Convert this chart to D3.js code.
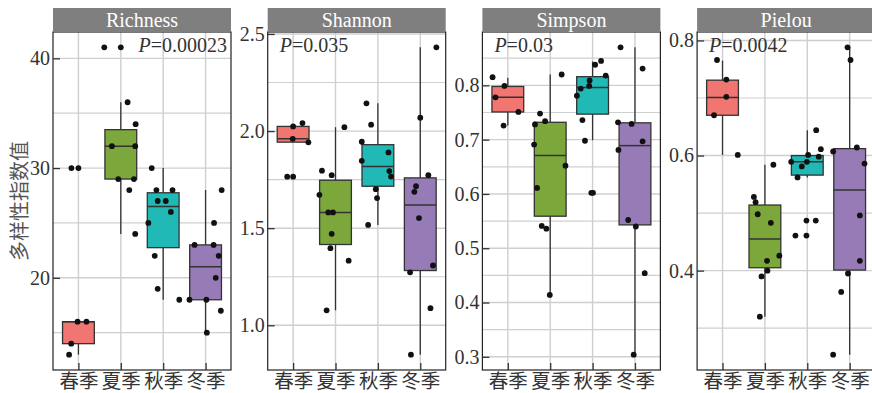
<!DOCTYPE html>
<html>
<head>
<meta charset="utf-8">
<script src="https://cdn.jsdelivr.net/npm/d3@7"></script>
<style>
  html, body { margin: 0; padding: 0; background: #fff; }
  svg { display: block; }
  .serif { font-family: "Liberation Serif", "Times New Roman", Tinos, "DejaVu Serif", serif; }
  .cjk { font-family: "Noto Sans CJK SC", "Noto Sans CJK JP", sans-serif; }
</style>
</head>
<body>
<svg id="chart" width="872" height="393"></svg>
<script>
// ---------- data ----------
const seasons = ["春季", "夏季", "秋季", "冬季"];
const indices = ["Richness", "Shannon", "Simpson", "Pielou"];
const pValues = ["0.00023", "0.035", "0.03", "0.0042"];
const yTitle = "多样性指数值";
const seasonColors = ["#F17571", "#7BA73B", "#20B9B6", "#977BB7"];

const richnessTicks = [20, 30, 40];
const shannonTicks = [1.0, 1.5, 2.0, 2.5];
const simpsonTicks = [0.3, 0.4, 0.5, 0.6, 0.7, 0.8];
const pielouTicks = [0.4, 0.6, 0.8];

// points per season (values) and horizontal jitter (fraction of category step)
const richnessValues = [
  [30, 30, 16, 16, 14, 13],
  [41, 41, 36, 34, 32, 32, 29, 29, 28, 24],
  [30, 28, 28, 27, 27, 26, 25, 22, 19, 18],
  [28, 25, 23, 23, 22, 20, 18, 18, 17, 15]
];
const richnessJitter = [
  [-0.165, 0, -0.02, 0.19, -0.17, -0.22],
  [-0.39, 0, 0.16, 0.35, -0.21, 0.34, -0.06, 0.31, 0.2, 0.34],
  [-0.27, -0.16, 0.22, -0.13, 0.06, 0.18, -0.35, -0.2, -0.13, 0.38],
  [0.38, 0.2, -0.26, 0.19, 0.31, 0.24, -0.38, 0.02, 0.36, 0.03]
];
// box stats: [lower whisker, q1, median, q3, upper whisker]
const richnessBox = [
  [13, 14, 16, 16, 16],
  [24, 29, 32, 33.5, 36],
  [18, 22.75, 26.5, 27.75, 30],
  [15, 18, 21, 23, 28]
];

const shannonValues = [
  [2.024, 2.041, 1.96, 1.942, 1.765, 1.765],
  [2.02, 1.796, 1.773, 1.672, 1.581, 1.581, 1.471, 1.397, 1.333, 1.077],
  [2.143, 2.033, 1.945, 1.89, 1.847, 1.794, 1.766, 1.701, 1.655, 1.517],
  [2.431, 2.069, 1.773, 1.716, 1.687, 1.552, 1.308, 1.273, 1.088, 0.849]
];
const shannonJitter = [
  [0, 0.22, -0.01, 0.36, -0.14, 0],
  [0.21, -0.32, -0.09, -0.38, -0.17, -0.06, -0.09, -0.12, 0.31, -0.21],
  [-0.27, -0.16, -0.38, 0.25, -0.38, 0.27, 0.31, -0.05, -0.02, -0.23],
  [0.38, 0, 0.19, -0.1, -0.14, -0.03, 0.3, -0.24, 0.24, -0.22]
];
const shannonBox = [
  [1.943, 1.943, 1.96, 2.024, 2.03],
  [1.077, 1.416, 1.581, 1.747, 2.02],
  [1.517, 1.716, 1.818, 1.93, 2.143],
  [0.849, 1.282, 1.62, 1.759, 2.431]
];

const simpsonValues = [
  [0.815, 0.799, 0.778, 0.751, 0.726],
  [0.82, 0.748, 0.728, 0.734, 0.691, 0.652, 0.611, 0.541, 0.536, 0.414],
  [0.845, 0.838, 0.818, 0.809, 0.799, 0.794, 0.781, 0.736, 0.698, 0.602, 0.602],
  [0.87, 0.831, 0.732, 0.729, 0.697, 0.681, 0.552, 0.54, 0.454, 0.304]
];
const simpsonJitter = [
  [-0.36, -0.08, -0.29, 0.25, -0.1],
  [0.27, -0.24, -0.36, -0.12, -0.38, 0.36, -0.31, -0.2, -0.09, -0.01],
  [0.2, 0.06, 0.31, -0.07, -0.08, -0.28, -0.37, -0.24, -0.18, -0.03, 0.01],
  [-0.34, 0.18, -0.4, -0.08, 0.18, -0.39, -0.16, 0.02, 0.23, -0.03]
];
const simpsonBox = [
  [0.726, 0.751, 0.778, 0.798, 0.814],
  [0.414, 0.559, 0.671, 0.732, 0.82],
  [0.699, 0.747, 0.796, 0.816, 0.844],
  [0.304, 0.543, 0.689, 0.731, 0.87]
];

const pielouValues = [
  [0.766, 0.732, 0.702, 0.67, 0.601],
  [0.584, 0.528, 0.519, 0.498, 0.483, 0.426, 0.417, 0.4, 0.39, 0.32],
  [0.644, 0.611, 0.601, 0.598, 0.589, 0.589, 0.581, 0.562, 0.487, 0.487, 0.461, 0.461],
  [0.788, 0.766, 0.614, 0.607, 0.586, 0.496, 0.417, 0.395, 0.363, 0.254]
];
const pielouJitter = [
  [-0.13, 0.09, 0.09, -0.2, 0.36],
  [0.2, -0.26, -0.22, -0.17, 0.14, 0.34, 0.05, 0.06, -0.08, -0.12],
  [0.21, 0.32, 0.02, 0.27, -0.38, -0.01, -0.13, -0.23, -0.02, 0.2, -0.28, -0.02],
  [-0.05, 0.02, 0.17, -0.39, 0.35, 0.24, 0.24, -0.04, -0.2, -0.39]
];
const pielouBox = [
  [0.601, 0.67, 0.701, 0.731, 0.765],
  [0.32, 0.405, 0.455, 0.514, 0.584],
  [0.562, 0.566, 0.589, 0.6, 0.644],
  [0.254, 0.401, 0.54, 0.612, 0.788]
];

const panelsData = [
  { values: richnessValues, jitter: richnessJitter, box: richnessBox, ticks: richnessTicks },
  { values: shannonValues, jitter: shannonJitter, box: shannonBox, ticks: shannonTicks },
  { values: simpsonValues, jitter: simpsonJitter, box: simpsonBox, ticks: simpsonTicks },
  { values: pielouValues, jitter: pielouJitter, box: pielouBox, ticks: pielouTicks }
];

// ---------- layout ----------
const panelLeft0 = 53, panelStep = 214.7, panelW = 178;
const panelTop = 32, panelBottom = 370, stripTop = 8;
const gridColor = "#CFCFCF";
const inkColor = "#333333";

const svg = d3.select("#chart");
svg.append("rect").attr("width", 872).attr("height", 393).attr("fill", "#fff");

// y-axis title
svg.append("text")
  .attr("class", "cjk")
  .attr("transform", `translate(18,${(panelTop + panelBottom) / 2}) rotate(-90)`)
  .attr("text-anchor", "middle")
  .attr("dominant-baseline", "central")
  .attr("font-size", 20)
  .attr("fill", "#555")
  .text(yTitle);

panelsData.forEach((pd, pi) => {
  const left = panelLeft0 + pi * panelStep;
  const g = svg.append("g");

  const x = d3.scalePoint().domain(seasons).range([left, left + panelW]).padding(0.6);
  const step = x.step();

  const all = pd.values.flat();
  const [mn, mx] = d3.extent(all);
  const ex = (mx - mn) * 0.05;
  const y = d3.scaleLinear().domain([mn - ex, mx + ex]).range([panelBottom, panelTop]);

  g.append("rect").attr("x", left).attr("y", panelTop)
    .attr("width", panelW).attr("height", panelBottom - panelTop).attr("fill", "#fff");

  // minor grid
  const tstep = pd.ticks[1] - pd.ticks[0];
  const minor = [];
  pd.ticks.forEach(t => minor.push(t - tstep / 2));
  minor.push(pd.ticks[pd.ticks.length - 1] + tstep / 2);
  const [d0, d1] = y.domain();
  g.selectAll(".minor").data(minor.filter(v => v > d0 && v < d1)).join("line")
    .attr("x1", left).attr("x2", left + panelW)
    .attr("y1", d => y(d)).attr("y2", d => y(d))
    .attr("stroke", gridColor).attr("stroke-width", 1.2);
  g.selectAll(".major").data(pd.ticks).join("line")
    .attr("x1", left).attr("x2", left + panelW)
    .attr("y1", d => y(d)).attr("y2", d => y(d))
    .attr("stroke", gridColor).attr("stroke-width", 1.4);
  g.selectAll(".vgrid").data(seasons).join("line")
    .attr("x1", d => x(d)).attr("x2", d => x(d))
    .attr("y1", panelTop).attr("y2", panelBottom)
    .attr("stroke", gridColor).attr("stroke-width", 1.4);

  // boxes
  const bw = step * 0.75;
  seasons.forEach((s, si) => {
    const b = pd.box[si];
    const cx = x(s);
    g.append("line").attr("x1", cx).attr("x2", cx)
      .attr("y1", y(b[0])).attr("y2", y(b[1]))
      .attr("stroke", inkColor).attr("stroke-width", 1.3);
    g.append("line").attr("x1", cx).attr("x2", cx)
      .attr("y1", y(b[3])).attr("y2", y(b[4]))
      .attr("stroke", inkColor).attr("stroke-width", 1.3);
    g.append("rect")
      .attr("x", cx - bw / 2).attr("width", bw)
      .attr("y", y(b[3])).attr("height", Math.max(0.5, y(b[1]) - y(b[3])))
      .attr("fill", seasonColors[si])
      .attr("stroke", inkColor).attr("stroke-width", 1.3);
    g.append("line").attr("x1", cx - bw / 2).attr("x2", cx + bw / 2)
      .attr("y1", y(b[2])).attr("y2", y(b[2]))
      .attr("stroke", inkColor).attr("stroke-width", 1.5);
  });

  // points
  const pts = [];
  seasons.forEach((s, si) => {
    pd.values[si].forEach((v, k) => pts.push({ s, v, j: pd.jitter[si][k] }));
  });
  g.selectAll(".pt").data(pts).join("circle")
    .attr("cx", d => x(d.s) + d.j * step)
    .attr("cy", d => y(d.v))
    .attr("r", 2.9)
    .attr("fill", "#111");

  // panel border
  g.append("rect").attr("x", left).attr("y", panelTop)
    .attr("width", panelW).attr("height", panelBottom - panelTop)
    .attr("fill", "none").attr("stroke", "#222").attr("stroke-width", 1.2);

  // y axis (ticks inward)
  const yAxis = d3.axisLeft(y).tickValues(pd.ticks).tickSize(-7).tickPadding(4)
    .tickFormat(pi === 0 ? d3.format("d") : d3.format(".1f"));
  const ya = svg.append("g").attr("transform", `translate(${left},0)`).call(yAxis);
  ya.attr("font-family", null);
  ya.select(".domain").remove();
  ya.selectAll(".tick line").attr("stroke", inkColor).attr("stroke-width", 1.3);
  ya.selectAll(".tick text").attr("class", "serif").attr("font-size", 20)
    .attr("fill", inkColor).attr("x", -3);

  // x axis (ticks inward)
  const xAxis = d3.axisBottom(x).tickSize(-7).tickPadding(2);
  const xa = svg.append("g").attr("transform", `translate(0,${panelBottom})`).call(xAxis);
  xa.attr("font-family", null);
  xa.select(".domain").remove();
  xa.selectAll(".tick line").attr("stroke", inkColor).attr("stroke-width", 1.3);
  xa.selectAll(".tick text").attr("class", "cjk").attr("font-size", 19.5)
    .attr("fill", inkColor).attr("dy", null).attr("y", 18);

  // strip
  svg.append("rect").attr("x", left).attr("y", stripTop)
    .attr("width", panelW).attr("height", panelTop - stripTop)
    .attr("fill", "#7F7F7F");
  svg.append("text").attr("class", "serif").attr("x", left + panelW / 2).attr("y", 27)
    .attr("text-anchor", "middle")
    .attr("font-size", 20).attr("fill", "#fff").text(indices[pi]);

  // P label
  const pt = svg.append("text").attr("class", "serif").attr("y", 52)
    .attr("font-size", 20).attr("fill", inkColor);
  if (pi === 0) pt.attr("x", left + panelW - 4).attr("text-anchor", "end");
  else pt.attr("x", left + 12).attr("text-anchor", "start");
  pt.append("tspan").attr("font-style", "italic").text("P");
  pt.append("tspan").text("=" + pValues[pi]);
});
</script>
</body>
</html>
